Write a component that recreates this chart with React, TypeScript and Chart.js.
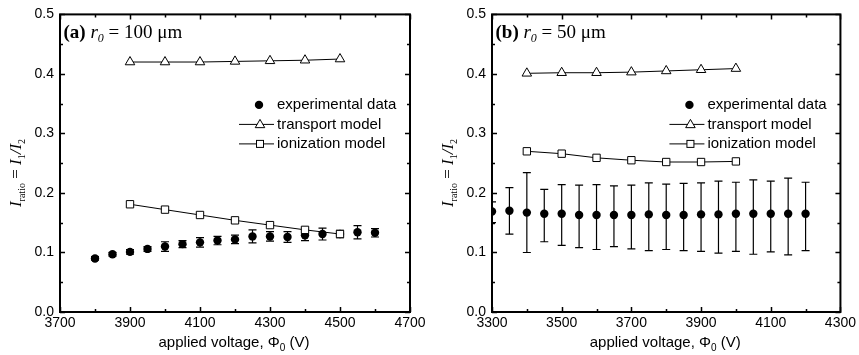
import React, { useEffect, useRef } from 'react';
import { Chart, registerables } from 'chart.js';
Chart.register(...registerables);

// ---------- DATA: panel (a) r0 = 100 um ----------
const voltExpA = [3800, 3850, 3900, 3950, 4000, 4050, 4100, 4150, 4200, 4250, 4300, 4350, 4400, 4450, 4500, 4550, 4600];
const ratioExpA = [0.090, 0.097, 0.101, 0.106, 0.110, 0.114, 0.117, 0.120, 0.122, 0.127, 0.127, 0.126, 0.129, 0.131, 0.131, 0.134, 0.133];
const errExpA = [0.003, 0.003, 0.004, 0.004, 0.008, 0.006, 0.008, 0.007, 0.007, 0.011, 0.008, 0.009, 0.009, 0.010, 0.006, 0.011, 0.007];
const voltModelA = [3900, 4000, 4100, 4200, 4300, 4400, 4500];
const transportA = [0.420, 0.420, 0.420, 0.421, 0.422, 0.423, 0.425];
const ionizationA = [0.181, 0.172, 0.163, 0.154, 0.146, 0.138, 0.131];
const xTicksA = [3700, 3900, 4100, 4300, 4500, 4700];
const xMinorA = [3800, 4000, 4200, 4400, 4600];

// ---------- DATA: panel (b) r0 = 50 um ----------
const voltExpB = [3300, 3350, 3400, 3450, 3500, 3550, 3600, 3650, 3700, 3750, 3800, 3850, 3900, 3950, 4000, 4050, 4100, 4150, 4200];
const ratioExpB = [0.169, 0.170, 0.167, 0.165, 0.165, 0.163, 0.163, 0.163, 0.163, 0.164, 0.163, 0.163, 0.164, 0.164, 0.165, 0.165, 0.165, 0.165, 0.165];
const errHighB = [0.185, 0.209, 0.234, 0.206, 0.214, 0.213, 0.214, 0.212, 0.213, 0.217, 0.215, 0.216, 0.217, 0.220, 0.218, 0.222, 0.220, 0.225, 0.218];
const errLowB = [0.150, 0.131, 0.100, 0.118, 0.112, 0.108, 0.105, 0.110, 0.106, 0.103, 0.105, 0.103, 0.102, 0.099, 0.102, 0.097, 0.101, 0.096, 0.103];
const voltModelB = [3400, 3500, 3600, 3700, 3800, 3900, 4000];
const transportB = [0.401, 0.402, 0.402, 0.403, 0.405, 0.407, 0.409];
const ionizationB = [0.270, 0.266, 0.259, 0.255, 0.252, 0.252, 0.253];
const xTicksB = [3300, 3500, 3700, 3900, 4100, 4300];
const xMinorB = [3400, 3600, 3800, 4000, 4200];

const yTicks = [0, 0.1, 0.2, 0.3, 0.4, 0.5];
const yMinor = [0.05, 0.15, 0.25, 0.35, 0.45];

const legendLabels = ['experimental data', 'transport model', 'ionization model'];

const SERIF = "'Liberation Serif', 'Times New Roman', serif";
const SANS = "'Liberation Sans', Arial, sans-serif";

type Part = { text: string; font: string; dy?: number; dx?: number };

function drawRich(ctx: CanvasRenderingContext2D, parts: Part[], x: number, y: number, align: 'left' | 'center') {
  let total = 0;
  for (const p of parts) {
    ctx.font = p.font;
    total += ctx.measureText(p.text).width + (p.dx || 0);
  }
  let cx = align === 'center' ? x - total / 2 : x;
  ctx.textAlign = 'left';
  ctx.textBaseline = 'alphabetic';
  for (const p of parts) {
    ctx.font = p.font;
    cx += p.dx || 0;
    ctx.fillText(p.text, cx, y + (p.dy || 0));
    cx += ctx.measureText(p.text).width;
  }
}

function drawTriangle(ctx: CanvasRenderingContext2D, x: number, y: number, r: number) {
  ctx.beginPath();
  let rad = 0;
  ctx.moveTo(x + Math.sin(rad) * r, y - Math.cos(rad) * r);
  rad += (2 * Math.PI) / 3;
  ctx.lineTo(x + Math.sin(rad) * r, y - Math.cos(rad) * r);
  rad += (2 * Math.PI) / 3;
  ctx.lineTo(x + Math.sin(rad) * r, y - Math.cos(rad) * r);
  ctx.closePath();
  ctx.fillStyle = '#fff';
  ctx.fill();
  ctx.stroke();
}

type PanelSpec = {
  width: number;
  yAxisWidth: number;
  rightPad: number;
  xMin: number;
  xMax: number;
  xTicks: number[];
  xMinor: number[];
  voltExp: number[];
  ratioExp: number[];
  low: number[];
  high: number[];
  voltModel: number[];
  transport: number[];
  ionization: number[];
  label: Part[];
  yTitleX: number;
};

function Panel({ spec }: { spec: PanelSpec }) {
  const ref = useRef<HTMLCanvasElement>(null);
  useEffect(() => {
    const canvas = ref.current;
    if (!canvas) return;

    const errorBars = {
      id: 'errorBars',
      beforeDatasetsDraw(chart: any) {
        const { ctx, chartArea: a, scales } = chart;
        const xs = scales.x, ys = scales.y;
        ctx.save();
        ctx.beginPath();
        ctx.rect(a.left, a.top, a.right - a.left, a.bottom - a.top);
        ctx.clip();
        ctx.strokeStyle = '#000';
        ctx.lineWidth = 1.2;
        spec.voltExp.forEach((v, i) => {
          const px = xs.getPixelForValue(v);
          const y1 = ys.getPixelForValue(spec.low[i]);
          const y2 = ys.getPixelForValue(spec.high[i]);
          ctx.beginPath();
          ctx.moveTo(px, y1);
          ctx.lineTo(px, y2);
          ctx.moveTo(px - 4, y1);
          ctx.lineTo(px + 4, y1);
          ctx.moveTo(px - 4, y2);
          ctx.lineTo(px + 4, y2);
          ctx.stroke();
        });
        ctx.restore();
      },
    };

    const decor = {
      id: 'decor',
      afterDraw(chart: any) {
        const { ctx, chartArea: a, scales } = chart;
        const xs = scales.x, ys = scales.y;
        ctx.save();
        ctx.strokeStyle = '#000';
        // ticks (inward, all four sides)
        ctx.lineWidth = 1.5;
        const vt = (vals: number[], len: number) => {
          vals.forEach((v) => {
            const px = Math.round(xs.getPixelForValue(v)) + 0.5;
            ctx.beginPath();
            ctx.moveTo(px, a.bottom);
            ctx.lineTo(px, a.bottom - len);
            ctx.moveTo(px, a.top);
            ctx.lineTo(px, a.top + len);
            ctx.stroke();
          });
        };
        const ht = (vals: number[], len: number) => {
          vals.forEach((v) => {
            const py = Math.round(ys.getPixelForValue(v)) + 0.5;
            ctx.beginPath();
            ctx.moveTo(a.left, py);
            ctx.lineTo(a.left + len, py);
            ctx.moveTo(a.right, py);
            ctx.lineTo(a.right - len, py);
            ctx.stroke();
          });
        };
        vt(spec.xTicks, 5);
        vt(spec.xMinor, 3);
        ht(yTicks, 5);
        ht(yMinor, 3);
        // frame
        ctx.lineWidth = 2;
        ctx.strokeRect(a.left, a.top, a.right - a.left, a.bottom - a.top);

        ctx.fillStyle = '#000';
        // panel label
        drawRich(ctx, spec.label, a.left + 3.5, a.top + 24, 'left');

        // legend
        const tx = a.right - 133;
        const rows = [a.top + 90.5, a.top + 110, a.top + 129.5];
        ctx.lineWidth = 1;
        // experimental
        ctx.beginPath();
        ctx.arc(a.right - 151, rows[0], 4.2, 0, Math.PI * 2);
        ctx.fill();
        // transport
        ctx.beginPath();
        ctx.moveTo(a.right - 171, rows[1]);
        ctx.lineTo(a.right - 136, rows[1]);
        ctx.stroke();
        drawTriangle(ctx, a.right - 150, rows[1] + 0.5, 5.5);
        // ionization
        ctx.beginPath();
        ctx.moveTo(a.right - 171, rows[2]);
        ctx.lineTo(a.right - 136, rows[2]);
        ctx.stroke();
        ctx.fillStyle = '#fff';
        ctx.fillRect(a.right - 153.5, rows[2] - 3.5, 7, 7);
        ctx.strokeRect(a.right - 153.5, rows[2] - 3.5, 7, 7);
        ctx.fillStyle = '#000';
        ctx.font = `15px ${SANS}`;
        ctx.textAlign = 'left';
        ctx.textBaseline = 'middle';
        legendLabels.forEach((t, i) => ctx.fillText(t, tx, rows[i]));

        // x axis title
        drawRich(
          ctx,
          [
            { text: 'applied voltage, \u03A6', font: `15px ${SANS}` },
            { text: '0', font: `10px ${SANS}`, dy: 4 },
            { text: ' (V)', font: `15px ${SANS}` },
          ],
          (a.left + a.right) / 2 - 1,
          347,
          'center'
        );

        // y axis title (rotated)
        ctx.save();
        ctx.translate(spec.yTitleX, 173);
        ctx.rotate(-Math.PI / 2);
        drawRich(
          ctx,
          [
            { text: 'I', font: `italic 17px ${SERIF}` },
            { text: 'ratio', font: `10px ${SERIF}`, dy: 4 },
            { text: ' = ', font: `17px ${SERIF}` },
            { text: 'I', font: `italic 17px ${SERIF}` },
            { text: '1', font: `10px ${SERIF}`, dy: 4 },
            { text: '/', font: `italic 17px ${SERIF}` },
            { text: 'I', font: `italic 17px ${SERIF}` },
            { text: '2', font: `10px ${SERIF}`, dy: 4 },
          ],
          0,
          0,
          'center'
        );
        ctx.restore();
        ctx.restore();
      },
    };

    const chart = new Chart(canvas, {
      type: 'scatter',
      data: {
        datasets: [
          {
            label: legendLabels[0],
            data: spec.voltExp.map((v, i) => ({ x: v, y: spec.ratioExp[i] })),
            pointStyle: 'circle',
            pointRadius: 4.2,
            pointBackgroundColor: '#000',
            pointBorderColor: '#000',
            pointBorderWidth: 0,
            showLine: false,
            clip: 0,
            order: 3,
          } as any,
          {
            label: legendLabels[1],
            data: spec.voltModel.map((v, i) => ({ x: v, y: spec.transport[i] })),
            pointStyle: 'triangle',
            pointRadius: 5.5,
            pointBackgroundColor: '#fff',
            pointBorderColor: '#000',
            pointBorderWidth: 1,
            borderColor: '#000',
            borderWidth: 1,
            showLine: true,
            order: 1,
          },
          {
            label: legendLabels[2],
            data: spec.voltModel.map((v, i) => ({ x: v, y: spec.ionization[i] })),
            pointStyle: 'rect',
            pointRadius: 5.2,
            pointBackgroundColor: '#fff',
            pointBorderColor: '#000',
            pointBorderWidth: 1,
            borderColor: '#000',
            borderWidth: 1,
            showLine: true,
            order: 1,
          },
        ],
      },
      options: {
        responsive: false,
        animation: false,
        events: [],
        layout: { padding: { top: 12.5, right: spec.rightPad, left: 0, bottom: 0 } },
        plugins: { legend: { display: false }, tooltip: { enabled: false } },
        scales: {
          x: {
            type: 'linear',
            min: spec.xMin,
            max: spec.xMax,
            grid: { display: false, drawTicks: false },
            border: { display: false },
            afterBuildTicks: (s: any) => {
              s.ticks = spec.xTicks.map((v) => ({ value: v }));
            },
            afterFit: (s: any) => {
              s.height = 43;
            },
            ticks: {
              color: '#000',
              padding: 3,
              font: { family: SANS, size: 14 },
              callback: (v: any) => String(v),
            },
          },
          y: {
            type: 'linear',
            min: 0,
            max: 0.5,
            grid: { display: false, drawTicks: false },
            border: { display: false },
            afterBuildTicks: (s: any) => {
              s.ticks = yTicks.map((v) => ({ value: v }));
            },
            afterFit: (s: any) => {
              s.width = spec.yAxisWidth;
            },
            ticks: {
              color: '#000',
              padding: 6,
              font: { family: SANS, size: 14 },
              callback: (v: any) => Number(v).toFixed(1),
            },
          },
        },
      },
      plugins: [errorBars, decor],
    } as any);
    return () => chart.destroy();
  }, [spec]);
  return <canvas ref={ref} width={spec.width} height={355} style={{ display: 'block' }} />;
}

const specA: PanelSpec = {
  width: 430,
  yAxisWidth: 60,
  rightPad: 20,
  xMin: 3700,
  xMax: 4700,
  xTicks: xTicksA,
  xMinor: xMinorA,
  voltExp: voltExpA,
  ratioExp: ratioExpA,
  low: ratioExpA.map((v, i) => v - errExpA[i]),
  high: ratioExpA.map((v, i) => v + errExpA[i]),
  voltModel: voltModelA,
  transport: transportA,
  ionization: ionizationA,
  label: [
    { text: '(a)', font: `bold 19px ${SERIF}` },
    { text: ' ', font: `19px ${SERIF}` },
    { text: 'r', font: `italic 19px ${SERIF}` },
    { text: '0', font: `italic 12px ${SERIF}`, dy: 4 },
    { text: ' = 100 \u03BCm', font: `19px ${SERIF}` },
  ],
  yTitleX: 21,
};

const specB: PanelSpec = {
  width: 429,
  yAxisWidth: 62,
  rightPad: 17,
  xMin: 3300,
  xMax: 4300,
  xTicks: xTicksB,
  xMinor: xMinorB,
  voltExp: voltExpB,
  ratioExp: ratioExpB,
  low: errLowB,
  high: errHighB,
  voltModel: voltModelB,
  transport: transportB,
  ionization: ionizationB,
  label: [
    { text: '(b)', font: `bold 19px ${SERIF}` },
    { text: ' ', font: `19px ${SERIF}` },
    { text: 'r', font: `italic 19px ${SERIF}` },
    { text: '0', font: `italic 12px ${SERIF}`, dy: 4 },
    { text: ' = 50 \u03BCm', font: `19px ${SERIF}` },
  ],
  yTitleX: 23,
};

export default function App() {
  return (
    <div style={{ position: 'fixed', left: 0, top: 0, width: 859, height: 355, display: 'flex', background: '#fff' }}>
      <Panel spec={specA} />
      <Panel spec={specB} />
    </div>
  );
}
